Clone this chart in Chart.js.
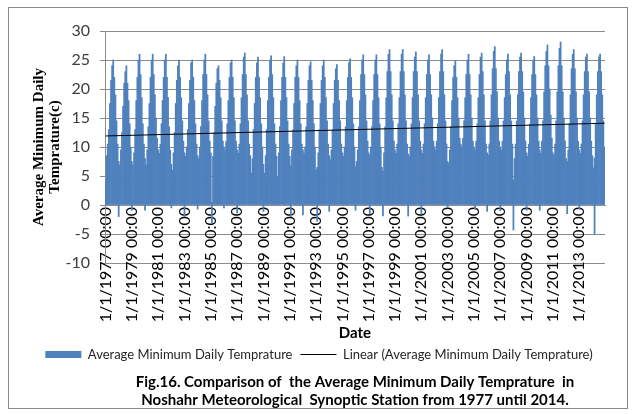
<!DOCTYPE html>
<html>
<head>
<meta charset="utf-8">
<script src="https://cdn.jsdelivr.net/npm/chart.js@4.4.1/dist/chart.umd.min.js"></script>
<style>
  body { margin: 0; background: #fff; }
  #frame { position: absolute; left: 8px; top: 7px; width: 618px; height: 400px; border: 1px solid #8c8c8c; }
  #chart { position: absolute; left: 0; top: 0; }
</style>
</head>
<body>
<div id="frame"></div>
<canvas id="chart" width="640" height="414"></canvas>
<script>
const years = [1977, 1978, 1979, 1980, 1981, 1982, 1983, 1984, 1985, 1986,
  1987, 1988, 1989, 1990, 1991, 1992, 1993, 1994, 1995, 1996,
  1997, 1998, 1999, 2000, 2001, 2002, 2003, 2004, 2005, 2006,
  2007, 2008, 2009, 2010, 2011, 2012, 2013, 2014];

// one row per year, Jan..Dec: warmest daily minimum of the month (deg C)
const monthlyTops = [
  [4.0, 8.5, 10.5, 13.0, 17.5, 21.5, 24.0, 25.0, 22.0, 19.0, 14.5, 10.5],
  [7.5, 6.9, 9.5, 12.5, 17.0, 21.0, 23.0, 24.0, 21.0, 18.0, 14.0, 10.0],
  [7.5, 6.9, 9.0, 13.0, 18.0, 22.0, 25.0, 26.0, 22.5, 18.5, 14.0, 10.5],
  [8.0, 6.9, 9.5, 13.5, 17.5, 22.0, 25.0, 26.0, 22.5, 19.0, 15.0, 11.5],
  [9.5, 8.9, 10.5, 14.0, 18.0, 22.0, 25.0, 26.0, 22.0, 18.5, 13.5, 9.5],
  [7.0, 6.0, 9.0, 12.5, 17.5, 21.5, 24.0, 25.0, 22.0, 18.5, 14.5, 11.0],
  [9.0, 8.4, 10.0, 13.0, 17.5, 21.5, 24.5, 25.0, 22.0, 18.0, 14.0, 10.5],
  [8.5, 8.0, 10.0, 13.5, 18.0, 22.5, 25.0, 26.0, 22.5, 19.0, 14.5, 11.0],
  [9.0, 0.5, 8.4, 12.5, 17.0, 21.0, 23.5, 24.0, 21.5, 18.5, 14.5, 11.0],
  [10.0, 9.5, 11.0, 14.0, 18.0, 22.0, 24.5, 25.0, 22.0, 18.5, 14.5, 11.0],
  [9.5, 8.9, 10.5, 14.0, 18.5, 22.5, 25.5, 26.2, 22.5, 19.0, 14.5, 10.5],
  [8.5, 5.5, 8.0, 13.0, 17.5, 22.0, 24.5, 25.5, 22.0, 18.5, 14.0, 10.0],
  [7.0, 5.5, 8.5, 13.0, 18.0, 22.0, 25.0, 25.7, 22.5, 18.5, 14.0, 10.5],
  [8.4, 4.9, 9.0, 13.5, 18.0, 22.0, 24.5, 25.6, 22.0, 18.5, 14.5, 10.5],
  [8.4, 6.7, 9.5, 13.0, 17.5, 22.0, 24.0, 25.0, 22.0, 18.0, 14.0, 10.5],
  [9.5, 8.9, 10.0, 13.5, 17.5, 21.5, 24.0, 24.7, 21.5, 18.0, 14.0, 10.0],
  [6.0, 6.5, 9.0, 13.0, 17.5, 21.5, 24.0, 25.0, 22.0, 18.5, 14.5, 10.5],
  [8.5, 7.8, 9.5, 13.0, 17.5, 21.5, 23.5, 24.2, 21.5, 18.0, 14.5, 10.5],
  [9.0, 8.4, 10.0, 13.5, 18.0, 22.0, 24.5, 25.2, 22.0, 18.5, 14.0, 10.0],
  [6.6, 7.5, 9.5, 13.5, 18.0, 22.5, 25.0, 25.9, 22.5, 19.0, 14.5, 11.0],
  [9.0, 8.6, 10.0, 13.5, 18.0, 22.5, 25.0, 25.9, 22.5, 18.5, 14.0, 10.0],
  [6.5, 5.8, 9.0, 13.5, 18.5, 23.0, 26.0, 26.8, 23.0, 19.0, 14.5, 11.0],
  [9.5, 8.9, 10.5, 14.0, 18.5, 23.0, 26.0, 26.8, 23.0, 19.0, 14.5, 10.5],
  [8.8, 8.4, 10.0, 14.0, 18.5, 23.0, 25.5, 26.4, 23.0, 19.0, 14.5, 11.0],
  [9.5, 8.9, 10.5, 14.0, 18.5, 22.5, 25.0, 25.9, 22.5, 19.0, 15.0, 11.0],
  [10.0, 9.5, 11.0, 14.0, 18.5, 23.0, 26.0, 26.8, 23.0, 19.0, 14.5, 10.5],
  [7.5, 7.2, 9.5, 13.5, 18.0, 22.0, 24.0, 24.8, 22.0, 18.5, 15.0, 11.5],
  [10.5, 10.0, 11.5, 14.5, 18.5, 22.5, 25.0, 26.0, 22.5, 19.0, 15.0, 11.0],
  [10.0, 9.5, 11.0, 14.0, 18.5, 22.5, 25.5, 26.2, 23.0, 19.0, 14.5, 10.5],
  [9.0, 8.6, 10.5, 14.5, 19.0, 23.5, 26.5, 27.3, 23.5, 19.5, 15.0, 11.0],
  [10.0, 9.5, 11.0, 14.5, 18.5, 22.5, 25.0, 26.0, 23.0, 19.0, 14.5, 10.5],
  [4.3, 8.0, 10.5, 14.5, 19.0, 23.0, 25.5, 26.2, 23.0, 19.5, 15.0, 11.0],
  [9.0, 8.4, 10.5, 14.0, 18.5, 22.5, 25.0, 25.6, 22.5, 19.0, 15.0, 11.0],
  [9.5, 8.9, 11.0, 14.5, 19.5, 24.0, 26.5, 27.6, 24.0, 20.0, 15.5, 11.5],
  [9.0, 8.6, 10.5, 14.5, 19.5, 24.0, 27.0, 28.1, 24.0, 19.5, 15.0, 11.0],
  [8.0, 7.5, 9.5, 14.0, 19.0, 23.5, 26.0, 26.8, 23.5, 19.5, 15.0, 11.0],
  [9.5, 8.9, 10.5, 14.5, 19.0, 23.0, 25.5, 26.0, 23.0, 19.5, 15.0, 11.0],
  [8.5, 6.4, 8.1, 14.0, 19.0, 23.0, 25.5, 26.0, 23.0, 19.0, 14.5, 10.0]
];

// frosty spells below zero: [year, month, coldest daily minimum]
const coldDips = [
  [1978, 1, -2.0], [1979, 1, -0.9], [1980, 1, -0.9], [1982, 1, -0.5],
  [1983, 1, -2.0], [1984, 1, -0.7], [1985, 2, -3.1], [1986, 1, -0.5],
  [1987, 1, -1.4], [1989, 1, -1.1], [1991, 2, -2.0], [1992, 1, -1.7],
  [1993, 2, -2.8], [1994, 1, -1.1], [1996, 1, -0.9], [1997, 2, -1.5],
  [1998, 2, -1.9], [2000, 1, -1.9], [2001, 1, -1.5], [2003, 1, -0.5],
  [2005, 2, -0.7], [2006, 1, -1.1], [2007, 1, -1.0], [2008, 1, -4.3],
  [2009, 1, -0.9], [2010, 1, -0.9], [2012, 2, -1.5], [2013, 1, -0.7],
  [2014, 3, -5.0]
];

// linear trend end points
const trendStart = 11.9;
const trendEnd = 14.1;

const labels = [];
const bars = [];
years.forEach((year, yi) => {
  monthlyTops[yi].forEach((top, mi) => {
    labels.push((mi + 1) + '/1/' + year + ' 00:00');
    const dip = coldDips.find(d => d[0] === year && d[1] === mi + 1);
    bars.push([dip ? dip[2] : 0, top]);
  });
});

const trend = labels.map(() => null);
trend[0] = trendStart;
trend[trend.length - 1] = trendEnd;

const blue = '#4f81bd';
const gridGray = '#8c8c8c';

new Chart(document.getElementById('chart'), {
  type: 'bar',
  data: {
    labels: labels,
    datasets: [{
      label: 'Average Minimum Daily Temprature',
      data: bars,
      backgroundColor: blue,
      borderWidth: 0,
      barPercentage: 1,
      categoryPercentage: 1,
      order: 2
    }, {
      type: 'line',
      label: 'Linear (Average Minimum Daily Temprature)',
      data: trend,
      borderColor: '#000',
      borderWidth: 1,
      pointRadius: 0,
      spanGaps: true,
      order: 1
    }]
  },
  options: {
    responsive: false,
    animation: false,
    layout: { padding: { left: 33, right: 35, top: 31, bottom: 0 } },
    scales: {
      x: {
        position: { y: 0 },
        grid: { display: false, drawTicks: false },
        border: { color: gridGray },
        ticks: {
          autoSkip: false,
          minRotation: 90,
          maxRotation: 90,
          padding: 2,
          color: '#000',
          font: { family: 'Lato', size: 16 },
          // a label every second January
          callback: function (value, i) {
            return i % 24 === 0 ? this.getLabelForValue(value) : null;
          }
        }
      },
      y: {
        min: -10,
        max: 30,
        afterFit: (scale) => { scale.width = 72; },
        grid: { color: gridGray, tickLength: 5 },
        border: { color: gridGray },
        ticks: { stepSize: 5, padding: 10, color: '#404040', font: { family: 'Lato', size: 16 } },
        title: {
          display: true,
          text: ['Average Minimum Daily', 'Temprature(c)'],
          color: '#000',
          font: { family: 'Liberation Serif', size: 15, weight: 'bold', lineHeight: 1.07 },
          padding: { top: -2, bottom: 0 }
        }
      }
    },
    plugins: {
      tooltip: { enabled: false },
      subtitle: {
        display: true,
        text: 'Date',
        position: 'bottom',
        fullSize: false,
        weight: 500,
        color: '#000',
        font: { family: 'Lato', size: 15, weight: 'bold', lineHeight: 1.2 },
        padding: { top: 61, bottom: -2 }
      },
      legend: {
        position: 'bottom',
        labels: {
          usePointStyle: true,
          pointStyleWidth: 36,
          boxHeight: 7,
          padding: 8,
          color: '#262626',
          font: { family: 'Lato', size: 13 },
          generateLabels: (chart) => {
            const items = Chart.defaults.plugins.legend.labels.generateLabels(chart);
            items.sort((a, b) => a.datasetIndex - b.datasetIndex);
            items[0].pointStyle = 'rect';
            items[1].pointStyle = 'line';
            return items;
          }
        }
      },
      title: {
        display: true,
        text: ['Fig.16. Comparison of  the Average Minimum Daily Temprature  in',
               'Noshahr Meteorological  Synoptic Station from 1977 until 2014.'],
        position: 'bottom',
        fullSize: false,
        color: '#000',
        font: { family: 'Lato', size: 15, weight: 'bold', lineHeight: 1.2 },
        padding: { top: 2, bottom: 5 }
      }
    }
  }
});
</script>
</body>
</html>
